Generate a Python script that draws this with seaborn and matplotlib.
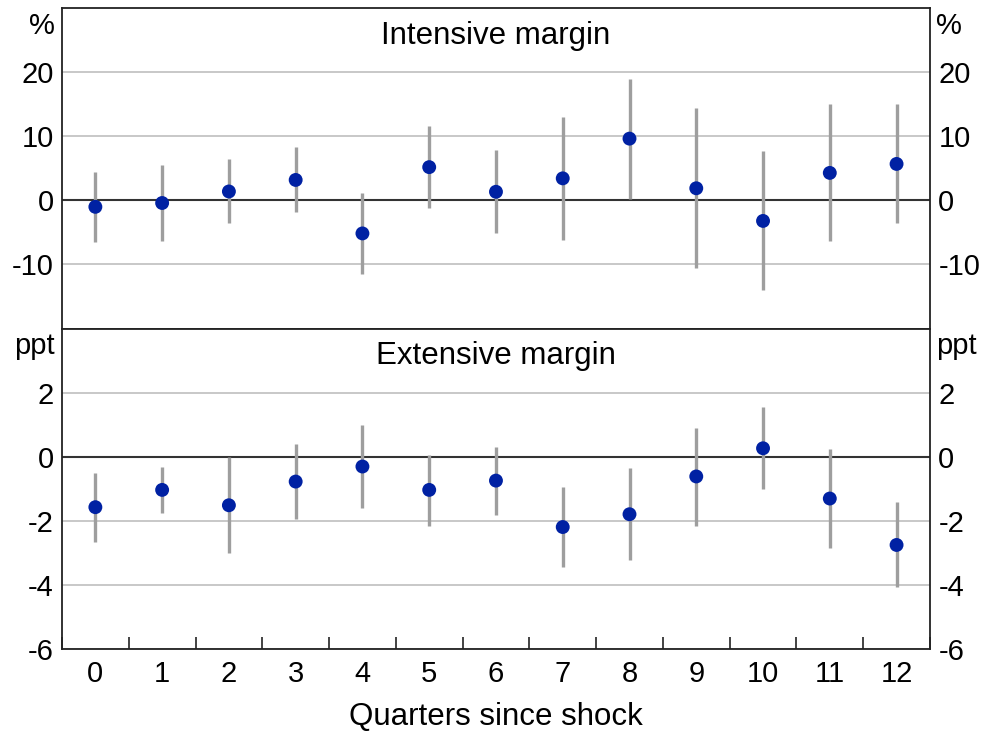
import numpy as np
import pandas as pd
import matplotlib
matplotlib.use("Agg")
from matplotlib import pyplot as plt
from matplotlib.ticker import MultipleLocator, FixedLocator
import seaborn as sns

# quarters since the shock
quarters = [0, 1, 2, 3, 4, 5, 6, 7, 8, 9, 10, 11, 12]

# intensive margin, per cent
intensive_est = [-1.0, -0.4, 1.4, 3.2, -5.15, 5.2, 1.35, 3.45, 9.65, 1.9, -3.2, 4.3, 5.7]
intensive_hi = [4.4, 5.6, 6.4, 8.3, 1.15, 11.6, 7.9, 13.1, 19.0, 14.4, 7.7, 15.1, 15.1]
intensive_lo = [-6.5, -6.4, -3.6, -1.8, -11.5, -1.2, -5.15, -6.25, 0.3, -10.6, -13.95, -6.4, -3.6]

# extensive margin, percentage points
extensive_est = [-1.58, -1.04, -1.52, -0.78, -0.31, -1.04, -0.75, -2.2, -1.8, -0.62, 0.26, -1.31, -2.76]
extensive_hi = [-0.52, -0.31, -0.02, 0.38, 0.98, 0.06, 0.29, -0.95, -0.37, 0.89, 1.56, 0.24, -1.43]
extensive_lo = [-2.66, -1.77, -3.0, -1.94, -1.59, -2.17, -1.82, -3.46, -3.24, -2.16, -1.02, -2.87, -4.08]

sns.set_style("white")
plt.rcParams['font.family'] = ['Liberation Sans', 'DejaVu Sans']
plt.rcParams['font.size'] = 21
plt.rcParams['text.color'] = 'black'
plt.rcParams['axes.labelcolor'] = 'black'
plt.rcParams['xtick.color'] = 'black'
plt.rcParams['ytick.color'] = 'black'

DOT = '#0021A3'
BAR = '#9E9E9E'
GRID = '#C4C4C4'
SPINE = '#222222'

panels = [
    dict(title='Intensive margin', unit='%', est=intensive_est, lo=intensive_lo, hi=intensive_hi,
         ylim=(-20, 30), yticks=[-10, 0, 10, 20]),
    dict(title='Extensive margin', unit='ppt', est=extensive_est, lo=extensive_lo, hi=extensive_hi,
         ylim=(-6, 4), yticks=[-6, -4, -2, 0, 2]),
]

fig, axes = plt.subplots(2, 1, figsize=(9.87, 7.36), dpi=100, sharex=True)
fig.subplots_adjust(left=0.0628, right=0.9422, top=0.9887, bottom=0.1186, hspace=0)

for ax, p in zip(axes, panels):
    df = pd.DataFrame({'quarter': quarters, 'est': p['est'], 'lo': p['lo'], 'hi': p['hi']})

    for t in p['yticks']:
        if t == 0:
            ax.axhline(0, color='#333333', lw=1.5, zorder=1)
        else:
            ax.axhline(t, color=GRID, lw=1.3, zorder=0)

    ax.vlines(df['quarter'], df['lo'], df['hi'], color=BAR, lw=2.4, zorder=2)
    sns.scatterplot(data=df, x='quarter', y='est', ax=ax, color=DOT, s=100,
                    edgecolor='none', zorder=3, legend=False)

    ax.set_xlim(-0.5, 12.5)
    ax.set_ylim(*p['ylim'])
    ax.yaxis.set_major_locator(FixedLocator(p['yticks']))
    ax.set_yticklabels([str(t) for t in p['yticks']])
    ax.tick_params(axis='y', length=0, pad=6, labelleft=True, labelright=True, labelsize=21)
    ax.set_ylabel('')
    ax.set_xlabel('')

    ax.text(0.5, 0.89, p['title'], transform=ax.transAxes, ha='center', va='baseline', fontsize=22.5)
    ax.text(-0.008, 0.99, p['unit'], transform=ax.transAxes, ha='right', va='top', fontsize=21)
    ax.text(1.007, 0.99, p['unit'], transform=ax.transAxes, ha='left', va='top', fontsize=21)

    for s in ax.spines.values():
        s.set_visible(True)
        s.set_color(SPINE)
        s.set_linewidth(1.3)

top, bottom = axes
top.tick_params(axis='x', which='both', bottom=False, labelbottom=False)

bottom.xaxis.set_major_locator(FixedLocator(quarters))
bottom.xaxis.set_minor_locator(MultipleLocator(1, offset=0.5))
bottom.set_xticklabels([str(q) for q in quarters])
bottom.tick_params(axis='x', which='major', length=0, pad=8, labelsize=21)
bottom.tick_params(axis='x', which='minor', direction='in', length=9, width=1.2,
                   color=SPINE, bottom=True, top=False)
bottom.set_xlabel('Quarters since shock', fontsize=22.5, labelpad=10)

plt.savefig('out.png', dpi=100)
